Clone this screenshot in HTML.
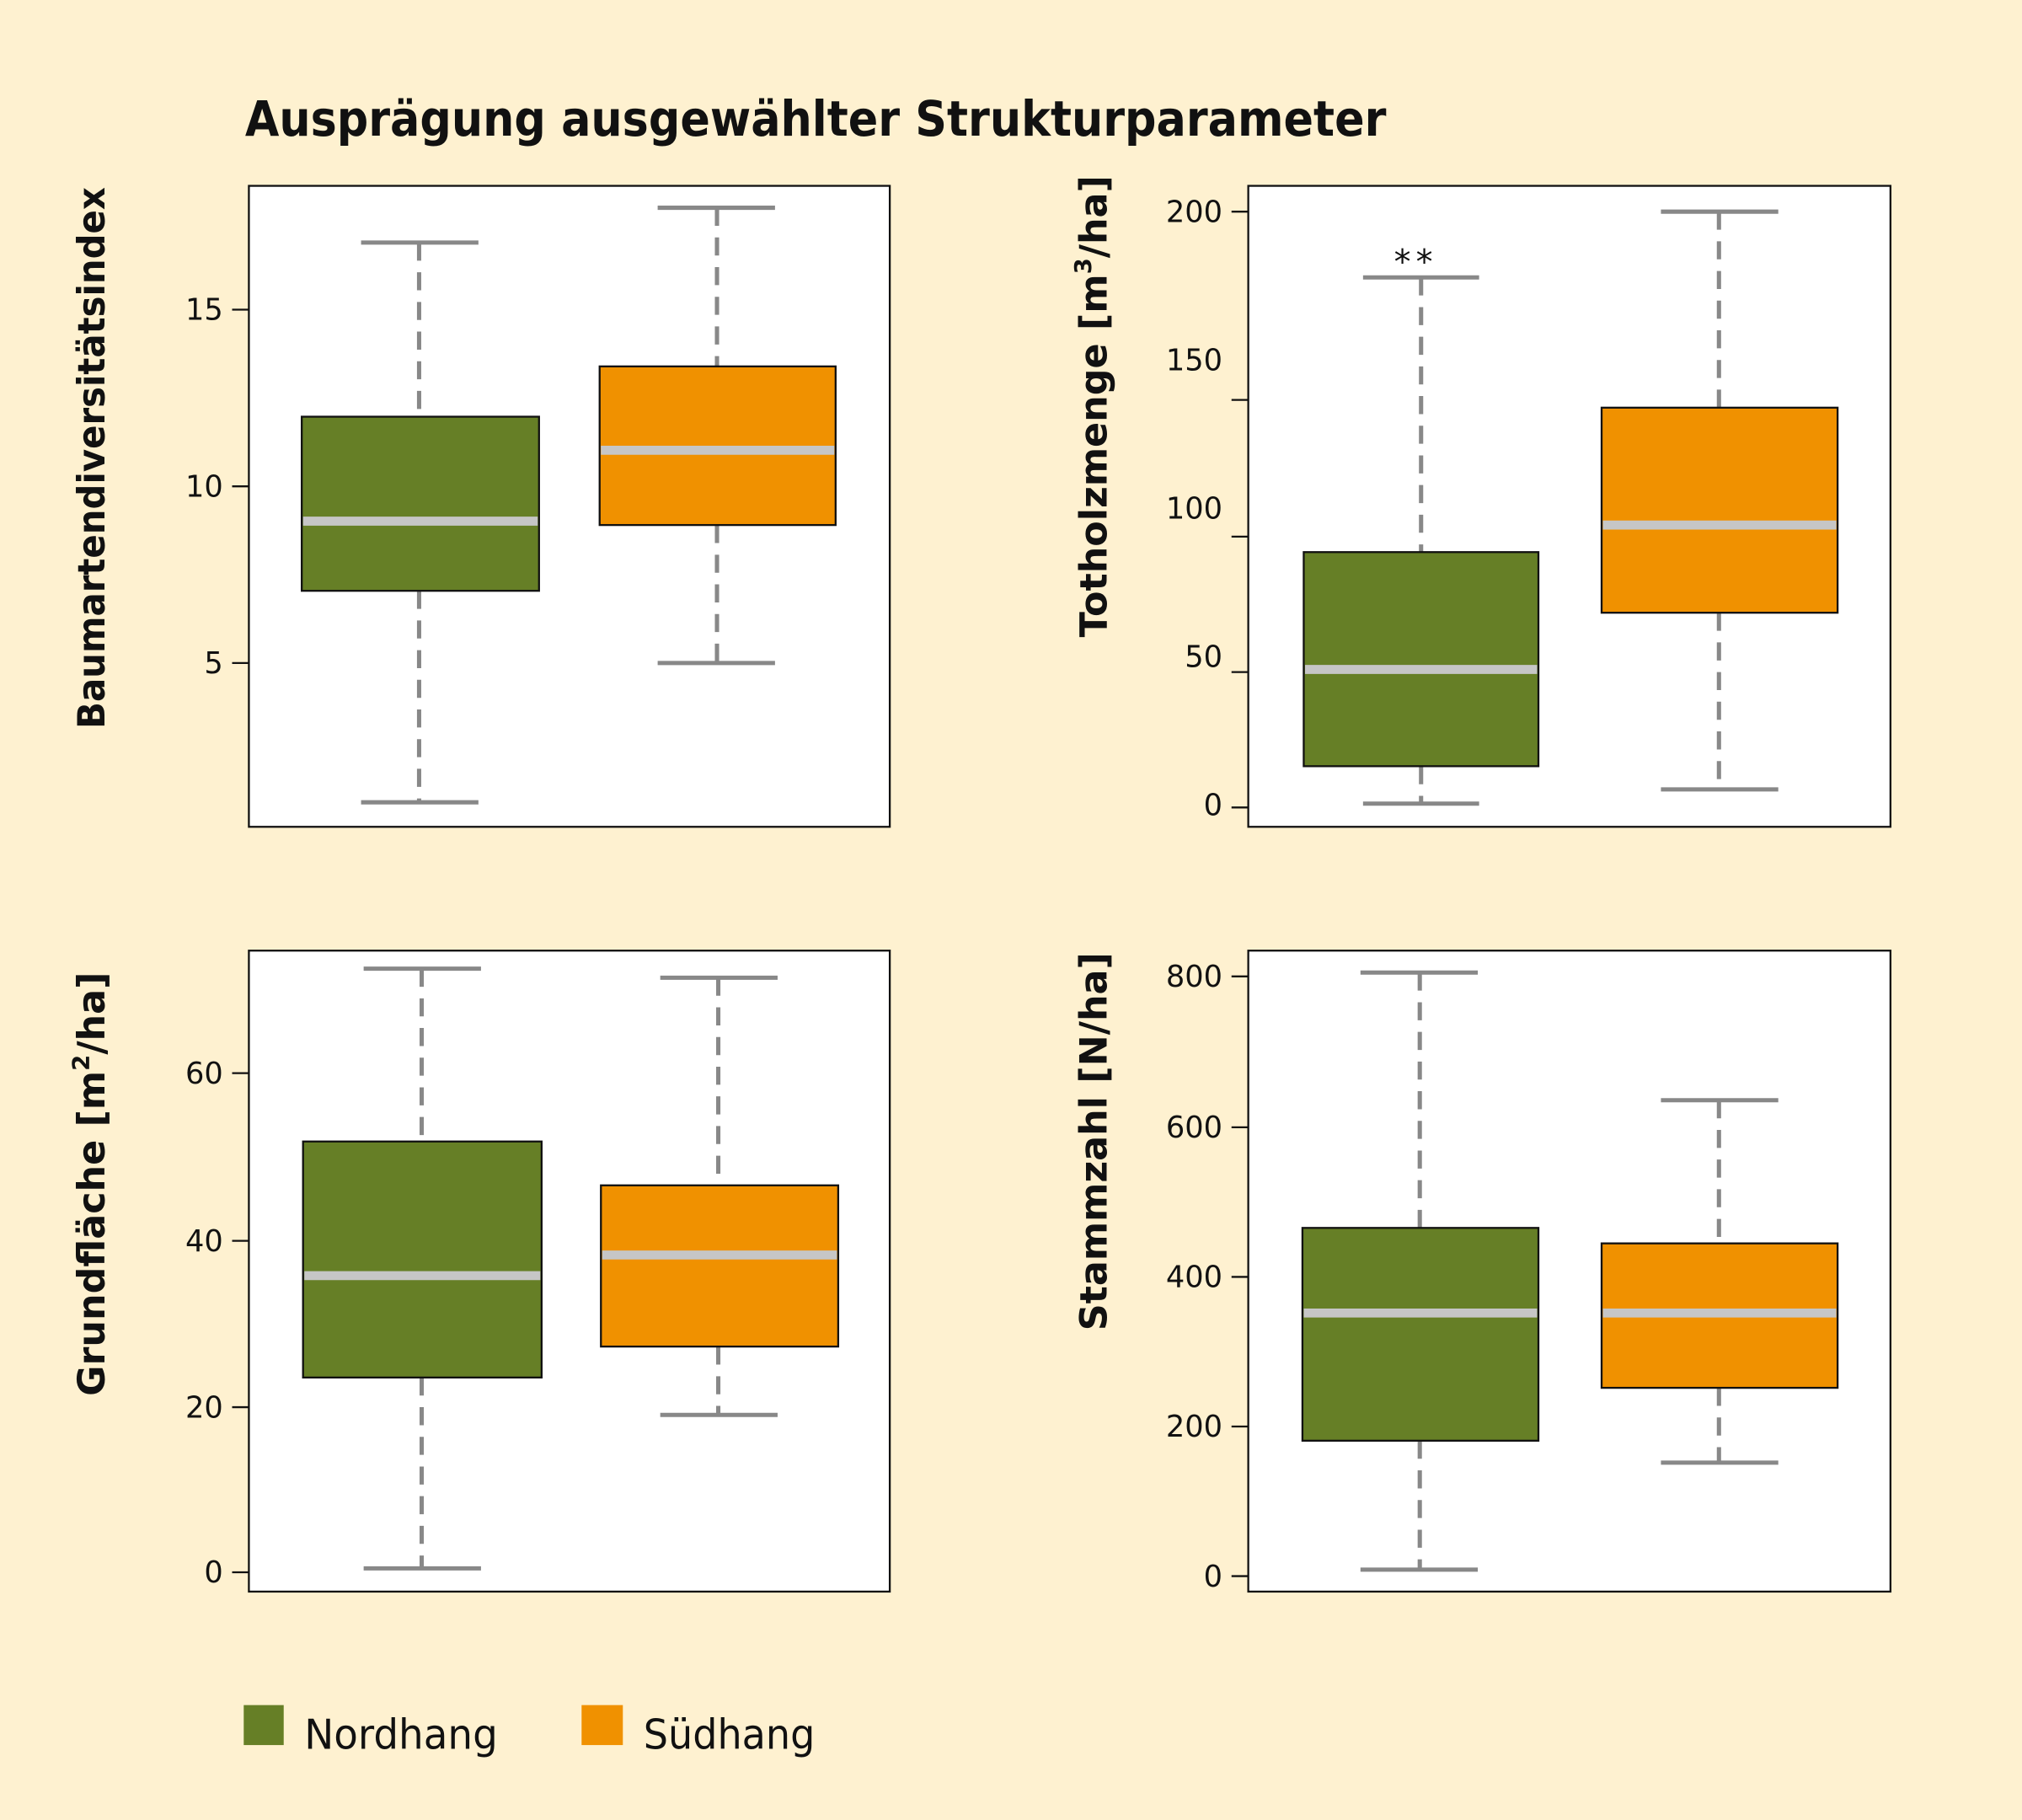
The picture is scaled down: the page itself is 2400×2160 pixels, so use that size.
<!DOCTYPE html>
<html><head><meta charset="utf-8"><style>
html,body{margin:0;padding:0;background:#FEF1D0;}
svg{display:block;}
text{font-family:"DejaVu Sans","Liberation Sans",sans-serif;fill:#111;}
</style></head><body>
<svg width="2400" height="2160" viewBox="0 0 1568 1411" xmlns="http://www.w3.org/2000/svg">
<rect x="0" y="0" width="1568" height="1411" fill="#FEF1D0"/>
<text x="190" y="105" font-size="38" font-weight="bold" textLength="885" lengthAdjust="spacingAndGlyphs">Ausprägung ausgewählter Strukturparameter</text>

<!-- Panel 1 -->
<rect x="193" y="144" width="497" height="497" fill="#fff" stroke="#111" stroke-width="1.5"/>
<g stroke="#111" stroke-width="1.5"><line x1="180" y1="240" x2="193" y2="240"/><line x1="180" y1="377" x2="193" y2="377"/><line x1="180" y1="514" x2="193" y2="514"/></g>
<g font-size="23" text-anchor="end"><text x="173" y="248">15</text><text x="173" y="385">10</text><text x="173" y="522">5</text></g>
<text transform="translate(81,355) rotate(-90)" font-size="29" font-weight="bold" text-anchor="middle" textLength="420" lengthAdjust="spacingAndGlyphs">Baumartendiversitätsindex</text>
<g stroke="#888" stroke-width="3.3"><line x1="325" y1="188" x2="325" y2="323" stroke-dasharray="14,9"/><line x1="325" y1="458" x2="325" y2="622" stroke-dasharray="14,9"/><line x1="280" y1="188" x2="371" y2="188"/><line x1="280" y1="622" x2="371" y2="622"/>
<line x1="556" y1="161" x2="556" y2="284" stroke-dasharray="14,9"/><line x1="556" y1="407" x2="556" y2="514" stroke-dasharray="14,9"/><line x1="510" y1="161" x2="601" y2="161"/><line x1="510" y1="514" x2="601" y2="514"/></g>
<rect x="234" y="323" width="184" height="135" fill="#667F26" stroke="#111" stroke-width="1.5"/>
<rect x="465" y="284" width="183" height="123" fill="#F09100" stroke="#111" stroke-width="1.5"/>
<g stroke="#C6C6C6" stroke-width="7"><line x1="235" y1="404" x2="417" y2="404"/><line x1="466" y1="349" x2="647" y2="349"/></g>

<!-- Panel 2 -->
<rect x="968" y="144" width="498" height="497" fill="#fff" stroke="#111" stroke-width="1.5"/>
<g stroke="#111" stroke-width="1.5"><line x1="955" y1="164" x2="968" y2="164"/><line x1="955" y1="310" x2="968" y2="310"/><line x1="955" y1="416" x2="968" y2="416"/><line x1="955" y1="521" x2="968" y2="521"/><line x1="955" y1="626" x2="968" y2="626"/></g>
<g font-size="23" text-anchor="end"><text x="948" y="172">200</text><text x="948" y="287">150</text><text x="948" y="402">100</text><text x="948" y="517">50</text><text x="948" y="632">0</text></g>
<text transform="translate(858,315) rotate(-90)" font-size="29" font-weight="bold" text-anchor="middle">Totholzmenge [m<tspan font-size="18" dy="-12">3</tspan><tspan dy="12">/ha]</tspan></text>
<g stroke="#888" stroke-width="3.3"><line x1="1102" y1="215" x2="1102" y2="428" stroke-dasharray="14,9"/><line x1="1102" y1="594" x2="1102" y2="623" stroke-dasharray="14,9"/><line x1="1057" y1="215" x2="1147" y2="215"/><line x1="1057" y1="623" x2="1147" y2="623"/>
<line x1="1333" y1="164" x2="1333" y2="316" stroke-dasharray="14,9"/><line x1="1333" y1="475" x2="1333" y2="612" stroke-dasharray="14,9"/><line x1="1288" y1="164" x2="1379" y2="164"/><line x1="1288" y1="612" x2="1379" y2="612"/></g>
<rect x="1011" y="428" width="182" height="166" fill="#667F26" stroke="#111" stroke-width="1.5"/>
<rect x="1242" y="316" width="183" height="159" fill="#F09100" stroke="#111" stroke-width="1.5"/>
<g stroke="#C6C6C6" stroke-width="7"><line x1="1012" y1="519" x2="1192" y2="519"/><line x1="1243" y1="407" x2="1424" y2="407"/></g>
<text x="1098" y="212" font-size="26" text-anchor="middle" letter-spacing="4">**</text>

<!-- Panel 3 -->
<rect x="193" y="737" width="497" height="497" fill="#fff" stroke="#111" stroke-width="1.5"/>
<g stroke="#111" stroke-width="1.5"><line x1="180" y1="832" x2="193" y2="832"/><line x1="180" y1="962" x2="193" y2="962"/><line x1="180" y1="1091" x2="193" y2="1091"/><line x1="180" y1="1219" x2="193" y2="1219"/></g>
<g font-size="23" text-anchor="end"><text x="173" y="840">60</text><text x="173" y="970">40</text><text x="173" y="1099">20</text><text x="173" y="1227">0</text></g>
<text transform="translate(81,918) rotate(-90)" font-size="29" font-weight="bold" text-anchor="middle">Grundfläche [m<tspan font-size="18" dy="-12">2</tspan><tspan dy="12">/ha]</tspan></text>
<g stroke="#888" stroke-width="3.3"><line x1="327" y1="751" x2="327" y2="885" stroke-dasharray="14,9"/><line x1="327" y1="1068" x2="327" y2="1216" stroke-dasharray="14,9"/><line x1="282" y1="751" x2="373" y2="751"/><line x1="282" y1="1216" x2="373" y2="1216"/>
<line x1="557" y1="758" x2="557" y2="919" stroke-dasharray="14,9"/><line x1="557" y1="1044" x2="557" y2="1097" stroke-dasharray="14,9"/><line x1="512" y1="758" x2="603" y2="758"/><line x1="512" y1="1097" x2="603" y2="1097"/></g>
<rect x="235" y="885" width="185" height="183" fill="#667F26" stroke="#111" stroke-width="1.5"/>
<rect x="466" y="919" width="184" height="125" fill="#F09100" stroke="#111" stroke-width="1.5"/>
<g stroke="#C6C6C6" stroke-width="7"><line x1="236" y1="989" x2="419" y2="989"/><line x1="467" y1="973" x2="649" y2="973"/></g>

<!-- Panel 4 -->
<rect x="968" y="737" width="498" height="497" fill="#fff" stroke="#111" stroke-width="1.5"/>
<g stroke="#111" stroke-width="1.5"><line x1="955" y1="757" x2="968" y2="757"/><line x1="955" y1="874" x2="968" y2="874"/><line x1="955" y1="990" x2="968" y2="990"/><line x1="955" y1="1106" x2="968" y2="1106"/><line x1="955" y1="1222" x2="968" y2="1222"/></g>
<g font-size="23" text-anchor="end"><text x="948" y="765">800</text><text x="948" y="882">600</text><text x="948" y="998">400</text><text x="948" y="1114">200</text><text x="948" y="1230">0</text></g>
<text transform="translate(858,885) rotate(-90)" font-size="29" font-weight="bold" text-anchor="middle">Stammzahl [N/ha]</text>
<g stroke="#888" stroke-width="3.3"><line x1="1101" y1="754" x2="1101" y2="952" stroke-dasharray="14,9"/><line x1="1101" y1="1117" x2="1101" y2="1217" stroke-dasharray="14,9"/><line x1="1055" y1="754" x2="1146" y2="754"/><line x1="1055" y1="1217" x2="1146" y2="1217"/>
<line x1="1333" y1="853" x2="1333" y2="964" stroke-dasharray="14,9"/><line x1="1333" y1="1076" x2="1333" y2="1134" stroke-dasharray="14,9"/><line x1="1288" y1="853" x2="1379" y2="853"/><line x1="1288" y1="1134" x2="1379" y2="1134"/></g>
<rect x="1010" y="952" width="183" height="165" fill="#667F26" stroke="#111" stroke-width="1.5"/>
<rect x="1242" y="964" width="183" height="112" fill="#F09100" stroke="#111" stroke-width="1.5"/>
<g stroke="#C6C6C6" stroke-width="7"><line x1="1011" y1="1018" x2="1192" y2="1018"/><line x1="1243" y1="1018" x2="1424" y2="1018"/></g>

<!-- Legend -->
<rect x="189" y="1322" width="31" height="31" fill="#667F26"/>
<text x="236" y="1356" font-size="32" textLength="150" lengthAdjust="spacingAndGlyphs">Nordhang</text>
<rect x="451" y="1322" width="32" height="31" fill="#F09100"/>
<text x="499" y="1356" font-size="32" textLength="133" lengthAdjust="spacingAndGlyphs">Südhang</text>
</svg>
</body></html>
